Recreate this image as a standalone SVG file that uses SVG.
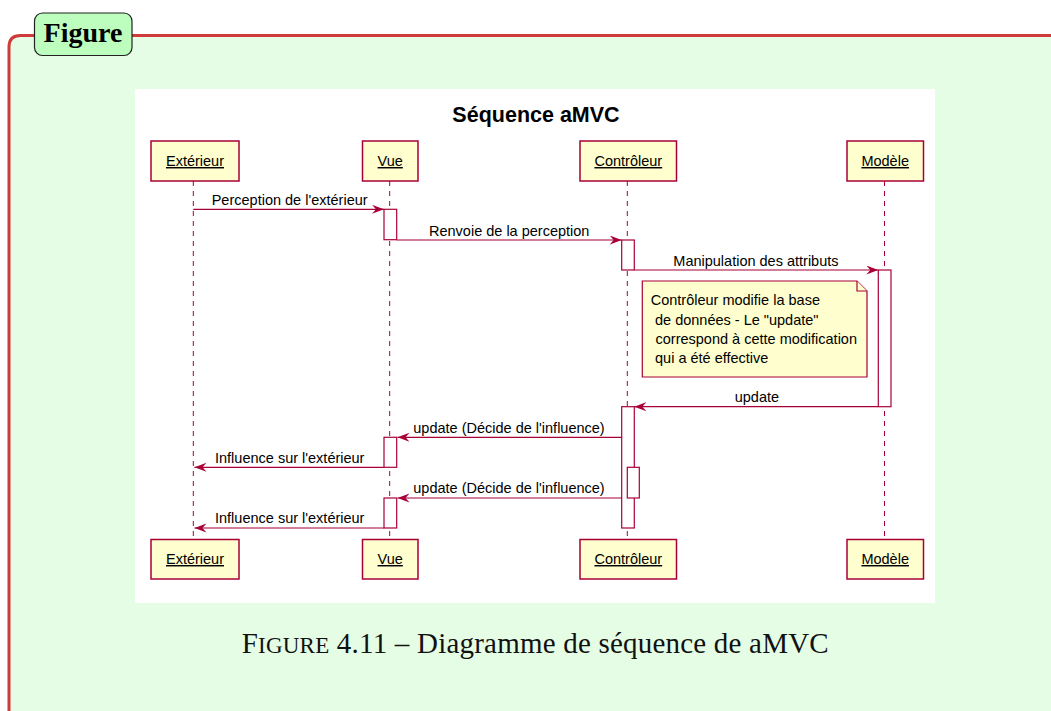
<svg xmlns="http://www.w3.org/2000/svg" width="1051" height="711" viewBox="0 0 1051 711">
<defs>
<style>
.lbl{fill:#bdfdbd;stroke:#222;stroke-width:1.2}
.part{fill:#fefece;stroke:#a80036;stroke-width:1.5}
.ptxt{font-family:"Liberation Sans",Arial,sans-serif;font-size:14.5px;fill:#000;text-anchor:middle;text-decoration:underline}
.life{stroke:#a80036;stroke-width:1;stroke-dasharray:5,5;fill:none}
.act{fill:#fff;stroke:#a80036;stroke-width:1.2}
.msg{stroke:#a80036;stroke-width:1.2;fill:none}
.mtxt{font-family:"Liberation Sans",Arial,sans-serif;font-size:14.5px;fill:#000}
.note{fill:#fefece;stroke:#a80036;stroke-width:1.2}
</style>
<marker id="ah" markerUnits="userSpaceOnUse" markerWidth="13" markerHeight="10" refX="12" refY="4.5" orient="auto">
<path d="M0,0 L12,4.5 L0,9 L4,4.5 Z" fill="#a80036"/>
</marker>
</defs>
<rect width="1051" height="711" fill="#fff"/>
<g id="frame">
<rect x="9" y="35.5" width="1060" height="690" fill="#e5fde5" stroke="none" rx="11"/>
<path d="M9,720 L9,47 Q9,35.5 20.5,35.5 L1060,35.5" fill="none" stroke="#d03a3a" stroke-width="3"/>
</g>
<g id="figure-label">
<rect class="lbl" x="34.5" y="13" width="97.5" height="42.5" rx="8"/>
<text x="83" y="41.5" font-family="'Liberation Serif',serif" font-weight="bold" font-size="28" text-anchor="middle" fill="#000">Figure</text>
</g>
<rect id="canvas" x="135" y="89" width="800" height="514" fill="#fff"/>
<text id="title" x="536" y="122" font-family="'Liberation Sans',Arial,sans-serif" font-weight="bold" font-size="21.5" text-anchor="middle" fill="#000">Séquence aMVC</text>
<g id="lifelines">
<line class="life" x1="193.3" y1="181" x2="193.3" y2="539"/>
<line class="life" x1="389.7" y1="181" x2="389.7" y2="539"/>
<line class="life" x1="627.3" y1="181" x2="627.3" y2="539"/>
<line class="life" x1="884.5" y1="181" x2="884.5" y2="539"/>
</g>
<g id="p-exterieur">
<rect class="part" x="151" y="141" width="88" height="40"/>
<text class="ptxt" x="195" y="166">Extérieur</text>
<rect class="part" x="151" y="539.5" width="88" height="39.5"/>
<text class="ptxt" x="195" y="564">Extérieur</text>
</g>
<g id="p-vue">
<rect class="part" x="362.5" y="141" width="55.5" height="40"/>
<text class="ptxt" x="390.2" y="166">Vue</text>
<rect class="part" x="362.5" y="539.5" width="55.5" height="39.5"/>
<text class="ptxt" x="390.2" y="564">Vue</text>
</g>
<g id="p-controleur">
<rect class="part" x="580" y="141" width="96.5" height="40"/>
<text class="ptxt" x="628.3" y="166">Contrôleur</text>
<rect class="part" x="580" y="539.5" width="96.5" height="39.5"/>
<text class="ptxt" x="628.3" y="564">Contrôleur</text>
</g>
<g id="p-modele">
<rect class="part" x="847" y="141" width="76.5" height="40"/>
<text class="ptxt" x="885.2" y="166">Modèle</text>
<rect class="part" x="847" y="539.5" width="76.5" height="39.5"/>
<text class="ptxt" x="885.2" y="564">Modèle</text>
</g>
<g id="activations">
<rect class="act" x="384" y="209.3" width="12.7" height="30.4"/>
<rect class="act" x="621.7" y="240" width="12.6" height="30"/>
<rect class="act" x="878.3" y="270" width="12.7" height="136.7"/>
<rect class="act" x="621.7" y="406.7" width="12.6" height="121.3"/>
<rect class="act" x="627.3" y="467.3" width="12" height="30.7"/>
<rect class="act" x="384" y="437.3" width="12.7" height="30"/>
<rect class="act" x="384" y="498" width="12.7" height="30"/>
</g>
<g id="note">
<path class="note" d="M642.3,281 L857,281 L867,291 L867,377 L642.3,377 Z"/>
<path class="note" d="M857,281 L857,291 L867,291"/>
<text class="mtxt" x="650.7" y="305">Contrôleur modifie la base</text>
<text class="mtxt" x="655" y="324.5">de données - Le "update"</text>
<text class="mtxt" x="655.5" y="343.7">correspond à cette modification</text>
<text class="mtxt" x="655" y="362.7">qui a été effective</text>
</g>
<g id="connectors">
<line class="msg" x1="193.3" y1="209.3" x2="384" y2="209.3" marker-end="url(#ah)"/>
<text class="mtxt" x="211.7" y="205">Perception de l'extérieur</text>
<line class="msg" x1="396.7" y1="240" x2="621.7" y2="240" marker-end="url(#ah)"/>
<text class="mtxt" x="429" y="235.7">Renvoie de la perception</text>
<line class="msg" x1="634.3" y1="270" x2="878.3" y2="270" marker-end="url(#ah)"/>
<text class="mtxt" x="673.3" y="266">Manipulation des attributs</text>
<line class="msg" x1="878.3" y1="406.7" x2="634.3" y2="406.7" marker-end="url(#ah)"/>
<text class="mtxt" x="734.7" y="402.3">update</text>
<line class="msg" x1="621.7" y1="437.3" x2="397.5" y2="437.3" marker-end="url(#ah)"/>
<text class="mtxt" x="413.3" y="433.3">update (Décide de l'influence)</text>
<line class="msg" x1="384" y1="467.3" x2="194.5" y2="467.3" marker-end="url(#ah)"/>
<text class="mtxt" x="215" y="463.3">Influence sur l'extérieur</text>
<line class="msg" x1="621.7" y1="498" x2="397.5" y2="498" marker-end="url(#ah)"/>
<text class="mtxt" x="413.3" y="493.3">update (Décide de l'influence)</text>
<line class="msg" x1="384" y1="528" x2="194.5" y2="528" marker-end="url(#ah)"/>
<text class="mtxt" x="215" y="523.3">Influence sur l'extérieur</text>
</g>
<text id="caption" x="241.7" y="653" font-family="'Liberation Serif',serif" font-size="29" fill="#111" textLength="587" lengthAdjust="spacing">F<tspan font-size="23">IGURE</tspan> 4.11 – Diagramme de séquence de aMVC</text>
</svg>
